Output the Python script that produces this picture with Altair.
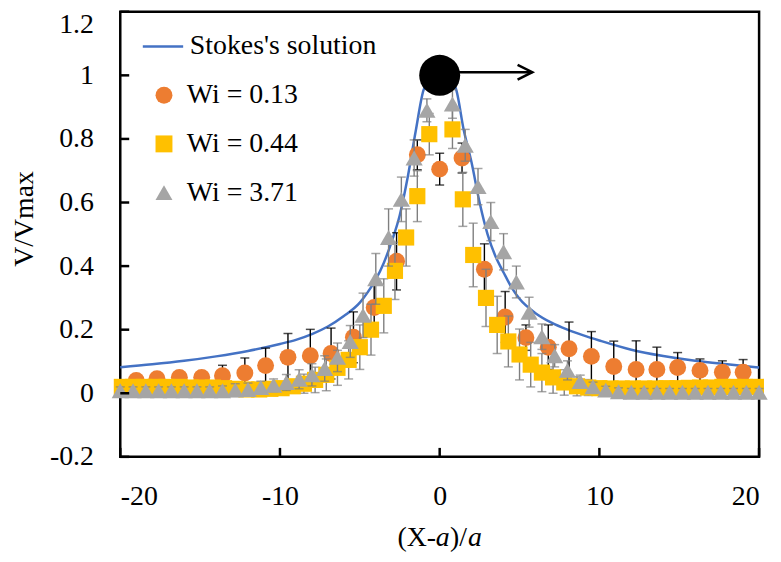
import altair as alt
import pandas as pd

# ---------------- data ----------------
LINE_NAME = ["Stokes's solution"]
LINE_COLOR = ["#4472C4"]
SERIES = ["Wi = 0.13", "Wi = 0.44", "Wi = 3.71"]
COLORS = ["#ED7D31", "#FFC000", "#A5A5A5"]
SHAPES = ["circle", "square", "triangle-up"]

stokes_x = [-20, -18, -16, -14, -12, -10, -9, -8, -7, -6, -5, -4.5, -4, -3.5, -3,
            -2.5, -2, -1.5, -1, -0.5, 0, 0.5, 1, 1.5, 2, 2.5, 3, 3.5, 4, 4.5, 5,
            6, 7, 8, 9, 10, 12, 14, 16, 18, 20]
stokes_y = [0.082, 0.091, 0.102, 0.116, 0.133, 0.155, 0.168, 0.186, 0.21, 0.243,
            0.285, 0.318, 0.358, 0.41, 0.478, 0.56, 0.68, 0.825, 0.955, 0.99, 1.0,
            0.99, 0.96, 0.83, 0.725, 0.6, 0.5, 0.43, 0.38, 0.333, 0.297, 0.252,
            0.222, 0.2, 0.182, 0.166, 0.137, 0.117, 0.102, 0.091, 0.081]

c_x = [-19.0, -17.7, -16.3, -14.9, -13.6, -12.2, -10.9, -9.5, -8.1, -6.8, -5.4, -4.1,
       -2.7, -1.4, 0.0, 1.4, 2.8, 4.1, 5.4, 6.8, 8.1, 9.5, 10.9, 12.3, 13.6, 14.9,
       16.3, 17.7, 19.0]
c_y = [0.04, 0.046, 0.05, 0.05, 0.055, 0.064, 0.087, 0.113, 0.118, 0.125, 0.176,
       0.27, 0.415, 0.75, 0.705, 0.74, 0.39, 0.24, 0.175, 0.145, 0.14, 0.116, 0.084,
       0.075, 0.075, 0.081, 0.072, 0.066, 0.066]
c_err = [0.008, 0.01, 0.01, 0.018, 0.033, 0.047, 0.055, 0.075, 0.083, 0.08, 0.08,
         0.07, 0.09, 0.047, 0.05, 0.047, 0.08, 0.08, 0.04, 0.07, 0.084, 0.078, 0.08,
         0.09, 0.07, 0.047, 0.036, 0.036, 0.04]

s_x = [-19.9, -19.2, -18.5, -17.8, -17.1, -16.3, -15.6, -14.9, -14.2, -13.5, -12.8,
       -12.1, -11.3, -10.6, -9.9, -9.2, -8.5, -7.8, -7.1, -6.4, -5.7, -5.0, -4.3,
       -3.5, -2.8, -2.1, -1.4, -0.65,
       0.8, 1.45, 2.1, 2.9, 3.6, 4.3, 5.0, 5.7, 6.4, 7.1, 7.8, 8.6, 9.3, 10.0, 10.7,
       11.4, 12.1, 12.8, 13.5, 14.2, 14.9, 15.6, 16.3, 17.0, 17.7, 18.4, 19.1, 19.8]
s_y = [0.02, 0.02, 0.02, 0.02, 0.02, 0.02, 0.018, 0.018, 0.018, 0.016, 0.014, 0.012,
       0.012, 0.014, 0.016, 0.022, 0.03, 0.042, 0.058, 0.08, 0.105, 0.145, 0.2,
       0.275, 0.385, 0.49, 0.62, 0.815,
       0.83, 0.61, 0.435, 0.3, 0.215, 0.163, 0.122, 0.09, 0.065, 0.05, 0.034, 0.022,
       0.018, 0.016, 0.015, 0.015, 0.015, 0.015, 0.015, 0.016, 0.016, 0.017, 0.018,
       0.018, 0.02, 0.02, 0.02, 0.02]
s_err = [0.015, 0.015, 0.015, 0.015, 0.015, 0.015, 0.015, 0.015, 0.015, 0.015, 0.015,
         0.015, 0.015, 0.015, 0.015, 0.02, 0.03, 0.04, 0.05, 0.055, 0.06, 0.07, 0.08,
         0.085, 0.09, 0.09, 0.08, 0.065,
         0.06, 0.085, 0.1, 0.09, 0.09, 0.08, 0.08, 0.07, 0.06, 0.05, 0.04, 0.03, 0.025,
         0.02, 0.02, 0.015, 0.015, 0.015, 0.015, 0.015, 0.015, 0.015, 0.015, 0.015,
         0.015, 0.015, 0.015, 0.015]

t_x = [-20.0, -19.2, -18.4, -17.6, -16.8, -16.0, -15.2, -14.4, -13.6, -12.8, -12.0,
       -11.2, -10.4, -9.6, -8.8, -8.0, -7.2, -6.4, -5.6, -4.8, -4.0, -3.2, -2.4, -1.6,
       -0.8,
       0.8, 1.6, 2.4, 3.2, 4.0, 4.8, 5.6, 6.4, 7.2, 8.0, 8.8, 9.6, 10.4, 11.2, 12.0,
       12.8, 13.6, 14.4, 15.2, 16.0, 16.8, 17.6, 18.4, 19.2, 20.0]
t_y = [0.008, 0.008, 0.008, 0.008, 0.008, 0.008, 0.008, 0.008, 0.008, 0.01, 0.012,
       0.018, 0.025, 0.034, 0.044, 0.058, 0.078, 0.113, 0.163, 0.245, 0.36, 0.49,
       0.61, 0.74, 0.89,
       0.91, 0.78, 0.65, 0.54, 0.445, 0.35, 0.255, 0.178, 0.118, 0.072, 0.037, 0.02,
       0.01, 0.005, 0.003, 0.003, 0.003, 0.003, 0.003, 0.003, 0.003, 0.003, 0.003,
       0.003, 0.003]
t_err = [0.012, 0.012, 0.012, 0.012, 0.012, 0.012, 0.012, 0.012, 0.015, 0.02, 0.02,
         0.02, 0.02, 0.025, 0.03, 0.035, 0.04, 0.045, 0.05, 0.07, 0.08, 0.09, 0.07,
         0.057, 0.036,
         0.045, 0.05, 0.057, 0.06, 0.057, 0.05, 0.047, 0.04, 0.035, 0.03, 0.02, 0.015,
         0.012, 0.012, 0.012, 0.012, 0.012, 0.012, 0.012, 0.012, 0.012, 0.012, 0.012,
         0.012, 0.012]

sphere_x = [0.0]
sphere_y = [1.0]
arrow_x = [1.2, 5.8]
arrow_y = [1.01]

x_ticks = [-20, -10, 0, 10, 20]
y_ticks = [-0.2, 0, 0.2, 0.4, 0.6, 0.8, 1.0, 1.2]

# ---------------- chart ----------------
W, H = 643, 448
FONT = "Liberation Serif"
FS = 28

xs = alt.Scale(domain=[-20, 20], nice=False, zero=False)
ys = alt.Scale(domain=[-0.2, 1.2], nice=False, zero=False)

xaxis = alt.Axis(values=x_ticks, title=None, grid=False, ticks=False, domain=False,
                 labelFont=FONT, labelFontSize=FS, labelColor="black",
                 labelFontWeight="normal",
                 labelPadding=26, labelExpr="toString(datum.value)")
yaxis = alt.Axis(values=y_ticks, title="V/Vmax", grid=False, ticks=False, domain=False,
                 labelFont=FONT, labelFontSize=FS, labelColor="black",
                 labelFontWeight="normal",
                 labelPadding=27, labelExpr="toString(round(datum.value*10)/10)",
                 labelOffset={"condition": {"test": "datum.value > 1.1", "value": 13},
                              "value": 0},
                 titleFont=FONT, titleFontSize=FS, titleFontWeight="normal",
                 titleColor="black", titleAngle=270, titleX=-88, titleY=208,
                 titleAlign="center", titleBaseline="alphabetic")


def X(f):
    return alt.X(f"{f}:Q", scale=xs, axis=xaxis)


def Y(f):
    return alt.Y(f"{f}:Q", scale=ys, axis=yaxis)


line_legend = alt.Legend(
    title=None, orient="none", legendX=21, legendY=13,
    labelFont=FONT, labelFontSize=FS, labelColor="black", labelFontWeight="normal",
    labelOffset=5, labelLimit=400,
    symbolType="stroke", symbolSize=1650, symbolStrokeWidth=2.5)
pt_legend = alt.Legend(
    title=None, orient="none", legendX=30, legendY=70,
    labelFont=FONT, labelFontSize=FS, labelColor="black", labelFontWeight="normal",
    labelOffset=9, labelLimit=400,
    rowPadding=21, symbolSize=290, symbolStrokeWidth=0, symbolOpacity=1)

stroke = alt.Stroke("series:N", scale=alt.Scale(domain=LINE_NAME, range=LINE_COLOR),
                    legend=line_legend)
color = alt.Color("series:N", scale=alt.Scale(domain=SERIES, range=COLORS),
                  legend=pt_legend)
shape = alt.Shape("series:N", scale=alt.Scale(domain=SERIES, range=SHAPES),
                  legend=pt_legend)

stokes_df = pd.DataFrame({"x": stokes_x, "y": stokes_y, "series": LINE_NAME[0]})


def sdf(name, xx, yy, ee):
    return pd.DataFrame({"x": xx, "y": yy,
                         "lo": [a - b for a, b in zip(yy, ee)],
                         "hi": [a + b for a, b in zip(yy, ee)],
                         "series": name})


c_df = sdf(SERIES[0], c_x, c_y, c_err)
s_df = sdf(SERIES[1], s_x, s_y, s_err)
t_df = sdf(SERIES[2], t_x, t_y, t_err)


def errbars(df, col):
    caps = pd.concat([df.assign(cap=df["lo"]), df.assign(cap=df["hi"])])
    r = alt.Chart(df).mark_rule(color=col, strokeWidth=1.4).encode(
        x=X("x"), y=Y("lo"), y2="hi:Q")
    t = alt.Chart(caps).mark_tick(color=col, orient="horizontal", size=9,
                                  thickness=1.5).encode(x=X("x"), y=Y("cap"))
    return [r, t]


def points(df, size):
    return alt.Chart(df).mark_point(filled=True, opacity=1, size=size).encode(
        x=X("x"), y=Y("y"), color=color, shape=shape)


line = alt.Chart(stokes_df).mark_line(strokeWidth=2.5, interpolate="monotone").encode(
    x=X("x"), y=Y("y"), stroke=stroke)

sphere = alt.Chart(pd.DataFrame({"x": sphere_x, "y": sphere_y})).mark_point(
    filled=True, color="black", opacity=1, size=1700, shape="circle").encode(
    x=X("x"), y=Y("y"))
arrow_df = pd.DataFrame({"x": [arrow_x[0]], "x2": [arrow_x[1]], "y": arrow_y})
arrow_line = alt.Chart(arrow_df).mark_rule(color="black", strokeWidth=2.5).encode(
    x=X("x"), x2="x2:Q", y=Y("y"))
arrow_head = alt.Chart(pd.DataFrame({"x": [arrow_x[1]], "y": arrow_y})).mark_point(
    shape="M-2,-1L0,0L-2,1", filled=False, color="black", strokeWidth=2.5,
    size=220, opacity=1).encode(x=X("x"), y=Y("y"))

ytick_df = pd.DataFrame({"v": y_ticks})
xtick_df = pd.DataFrame({"v": x_ticks})
yticks = alt.Chart(ytick_df).mark_rule(color="black", strokeWidth=2.5).encode(
    y=Y("v"), x=alt.value(0), x2=alt.value(9))
xticks = alt.Chart(xtick_df).mark_rule(color="black", strokeWidth=2.5).encode(
    x=X("v"), y=alt.value(H), y2=alt.value(H - 9))

# x-axis title "(X-a)/a" with italic a
title_parts = [("(X-", "normal", 279), ("a", "italic", 317.5), (")/", "normal", 332),
               ("a", "italic", 350)]
title_layers = []
for txt, style, px in title_parts:
    title_layers.append(
        alt.Chart(pd.DataFrame({"t": [txt]})).mark_text(
            font=FONT, fontSize=FS, fontStyle=style, color="black", align="left",
            baseline="alphabetic").encode(text="t:N", x=alt.value(px), y=alt.value(538)))

layers = [line]
layers += errbars(c_df, "#000000")
layers.append(points(c_df, 290))
layers += errbars(s_df, "#7F7F7F")
layers.append(points(s_df, 265))
layers += errbars(t_df, "#7F7F7F")
layers.append(points(t_df, 300))
layers += [sphere, arrow_line, arrow_head, yticks, xticks] + title_layers

chart = alt.layer(*layers).properties(
    width=W, height=H,
    autosize=alt.AutoSizeParams(type="none"),
    padding={"left": 113, "top": 2, "right": 14, "bottom": 96},
).configure_view(stroke="black", strokeWidth=2.5).configure_axis(
    grid=False, labelFont=FONT, titleFont=FONT
).configure_legend(labelFont=FONT, labelFontWeight="normal")

chart.save("out.html", embed_options={"renderer": "svg", "actions": False})
